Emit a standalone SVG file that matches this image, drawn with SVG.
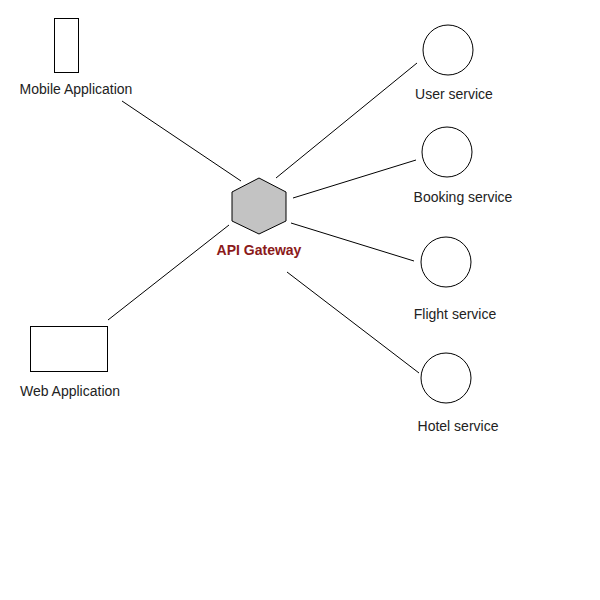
<svg xmlns="http://www.w3.org/2000/svg" width="600" height="600" viewBox="0 0 600 600">
<style>
.shape{fill:#fff;stroke:#000;stroke-width:1}
.edge{stroke:#000;stroke-width:1;fill:none}
.lbl{font-family:"Liberation Sans",Arial,sans-serif;font-size:14px;fill:#222;text-anchor:middle}
.gw{font-family:"Liberation Sans",Arial,sans-serif;font-size:14px;font-weight:bold;fill:#8b1a1a;text-anchor:middle}
</style>
<rect width="600" height="600" fill="#fff"/>
<g id="connectors">
<line class="edge" x1="122" y1="101" x2="241" y2="181"/>
<line class="edge" x1="229" y1="225" x2="108" y2="320"/>
<line class="edge" x1="276" y1="178" x2="417" y2="63"/>
<line class="edge" x1="293" y1="198" x2="416" y2="160"/>
<line class="edge" x1="291" y1="223" x2="414" y2="261"/>
<line class="edge" x1="287" y1="272" x2="419" y2="373"/>
</g>
<g id="mobile">
<rect class="shape" x="54.5" y="18.5" width="24" height="54"/>
<text class="lbl" x="76" y="94">Mobile Application</text>
</g>
<g id="web">
<rect class="shape" x="30.5" y="326.5" width="77" height="45"/>
<text class="lbl" x="70" y="396">Web Application</text>
</g>
<g id="gateway">
<polygon points="259,178 286,192 286,221 259,234 232,221 232,192" fill="#c3c3c3" stroke="#000" stroke-width="1"/>
<text class="gw" x="259" y="255">API Gateway</text>
</g>
<g id="user">
<circle class="shape" cx="448" cy="50" r="25"/>
<text class="lbl" x="454" y="99">User service</text>
</g>
<g id="booking">
<circle class="shape" cx="447" cy="152" r="25"/>
<text class="lbl" x="463" y="202">Booking service</text>
</g>
<g id="flight">
<circle class="shape" cx="446" cy="262" r="25"/>
<text class="lbl" x="455" y="319">Flight service</text>
</g>
<g id="hotel">
<circle class="shape" cx="446" cy="378" r="25"/>
<text class="lbl" x="458" y="431">Hotel service</text>
</g>
</svg>
